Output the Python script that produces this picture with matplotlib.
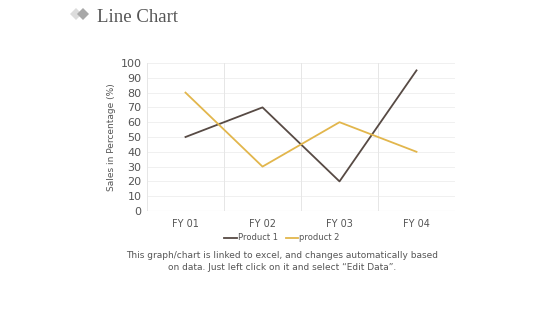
import matplotlib
matplotlib.use("Agg")
import matplotlib.pyplot as plt
from matplotlib.patches import Polygon

categories = ["FY 01", "FY 02", "FY 03", "FY 04"]
product1 = [50, 70, 20, 95]
product2 = [80, 30, 60, 40]
series_names = ["Product 1", "product 2"]
yticks = list(range(0, 101, 10))

fig = plt.figure(figsize=(5.6, 3.15), dpi=100)
W, H = 560, 315
ax = fig.add_axes([147 / W, 1 - 211 / H, (455 - 147) / W, (211 - 63) / H])

x = list(range(len(categories)))
ax.plot(x, product1, color="#574a44", lw=1.3, label=series_names[0])
ax.plot(x, product2, color="#e2b64c", lw=1.3, label=series_names[1])

ax.set_xlim(-0.5, len(categories) - 0.5)
ax.set_ylim(0, 100)
ax.set_yticks(yticks)
ax.set_yticklabels([str(v) for v in yticks], fontsize=8, color="#555555")
ax.set_xticks(x)
ax.set_xticklabels(categories, fontsize=7, color="#555555")
ax.tick_params(length=0, pad=4)
ax.tick_params(axis="x", pad=6)
for v in yticks:
    ax.axhline(v, color="#eeeeee", lw=0.6, zorder=0)
for b in [i + 0.5 for i in range(-1, len(categories))]:
    ax.axvline(b, color="#e6e6e6", lw=0.7, zorder=0)
for s in ax.spines.values():
    s.set_visible(False)
ax.axhline(0, color="#dddddd", lw=0.8, zorder=0)
ax.set_ylabel("Sales in Percentage (%)", fontsize=6.5, color="#555555", labelpad=3)

leg = fig.legend(*ax.get_legend_handles_labels(), loc="center", bbox_to_anchor=(282 / W, 1 - 238 / H),
                 ncol=2, frameon=False, fontsize=6, handlelength=1.5, handletextpad=0.1,
                 columnspacing=1.0, labelcolor="#555555", borderaxespad=0, borderpad=0)

fig.text(97 / W, 1 - 18 / H, "Line Chart", fontsize=13.5, family="Liberation Serif",
         color="#555555", va="center", ha="left")
# diamonds icon
def diamond(cx, cy, r, color):
    pts = [(cx / W, 1 - (cy - r) / H), ((cx + r) / W, 1 - cy / H),
           (cx / W, 1 - (cy + r) / H), ((cx - r) / W, 1 - cy / H)]
    fig.patches.append(Polygon(pts, closed=True, transform=fig.transFigure,
                               facecolor=color, edgecolor="none"))
diamond(76, 14, 6, "#dcdcdc")
diamond(83, 14, 6, "#a8a8a8")

fig.text(282 / W, 1 - 256 / H, "This graph/chart is linked to excel, and changes automatically based",
         fontsize=6.5, color="#555555", ha="center", va="center")
fig.text(282 / W, 1 - 267 / H, "on data. Just left click on it and select \u201cEdit Data\u201d.",
         fontsize=6.5, color="#555555", ha="center", va="center")

fig.savefig("out.png", dpi=100)
